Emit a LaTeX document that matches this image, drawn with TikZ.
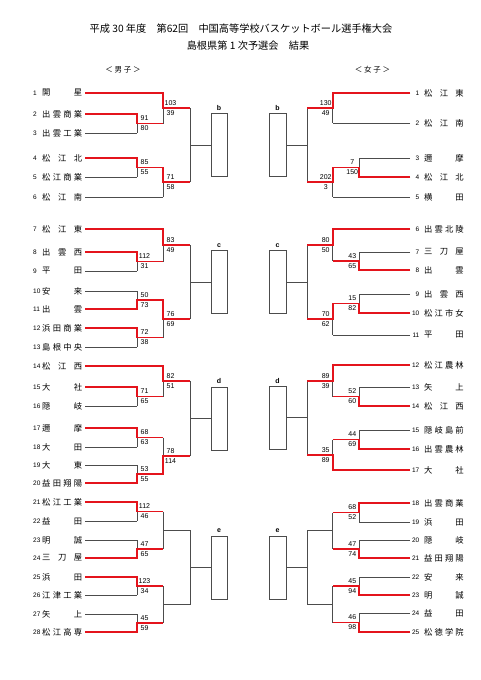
\documentclass[tikz,border=0pt]{standalone}
\usepackage{fontspec}
\setmainfont{Noto Sans CJK JP}
\newfontfamily\lat{Liberation Sans}
\pgfdeclarelayer{fg}
\pgfsetlayers{main,fg}
\definecolor{wred}{RGB}{228,20,28}
\tikzset{
 ln/.style={draw=black!70, line width=0.7pt},
 win/.style={draw=wred, line width=1.7pt},
 sc/.style={inner sep=0pt, font=\lat\fontsize{7}{7}\selectfont},
 tnum/.style={inner sep=0pt, font=\lat\fontsize{6.5}{6.5}\selectfont},
 tname/.style={inner sep=0pt, font=\fontsize{8.3}{9}\selectfont},
 lbl/.style={inner sep=0pt, font=\lat\bfseries\fontsize{7}{7}\selectfont},
 bx/.style={draw=black!70, line width=0.7pt, inner sep=0pt, minimum height=63pt},
}
% match: name, x, ya, yb, xnext, top score, bottom score, winner(0/1/2), xprev
\newcommand\M[9]{%
  \pgfmathsetmacro\ym{(#3+#4)/2}%
  \pgfmathsetmacro\sx{(#5>#2) ? (#2+7.5) : (#2-7)}%
  \draw[ln] (#2,#3) -- (#2,#4) (#2,\ym) -- (#5,\ym);
  \node[sc] (#1a) at (\sx,\ym-5) {#6};
  \node[sc] (#1b) at (\sx,\ym+5) {#7};
  \ifcase#8\or
   \begin{pgfonlayer}{fg}\draw[win] (#9,#3) -- (#2,#3) -- (#2,\ym) -- (#5,\ym);\end{pgfonlayer}%
  \or
   \begin{pgfonlayer}{fg}\draw[win] (#9,#4) -- (#2,#4) -- (#2,\ym) -- (#5,\ym);\end{pgfonlayer}%
  \fi
}
% plain match without scores: x, ya, yb, xnext
\newcommand\Mb[4]{%
  \pgfmathsetmacro\ym{(#2+#3)/2}%
  \draw[ln] (#1,#2) -- (#1,#3) (#1,\ym) -- (#4,\ym);
}
% final: name, x, ya, yb, box centre x, anchor, label, width
\newcommand\F[8]{%
  \pgfmathsetmacro\ym{(#3+#4)/2}%
  \node[bx, minimum width=#8pt] (#1) at (#5,\ym) {};
  \node[lbl, anchor=south] (#1l) at ([yshift=2.5pt]#1.north) {#7};
  \draw[ln] (#2,#3) -- (#2,#4) (#2,\ym) -- (#1.#6);
}
\newcommand\LT[5]{%
  \node[tnum, anchor=west] (#1n) at (33,#2) {#3};
  \node[tname, anchor=west] (#1) at (42,#2) {\hbox to 40pt{#4}};
  \draw[ln] (85,#2) -- (#5,#2);
}
\newcommand\RT[5]{%
  \node[tnum, anchor=east] (#1n) at (419.5,#2) {#3};
  \node[tname, anchor=west] (#1) at (424,#2) {\hbox to 39.5pt{#4}};
  \draw[ln] (410,#2) -- (#5,#2);
}
\begin{document}
\begin{tikzpicture}[x=1pt,y=-1pt]
\fill[white] (0,0) rectangle (481,680);
\useasboundingbox (0,0) rectangle (481,680);

\node[inner sep=0pt, font=\fontsize{10.2}{12}\selectfont] (t1) at (241,29) {平成 30 年度　第62回　中国高等学校バスケットボール選手権大会};
\node[inner sep=0pt, font=\fontsize{10.2}{12}\selectfont] (t2) at (248,46) {島根県第 1 次予選会　結果};
\node[inner sep=0pt, font=\fontsize{7.5}{9}\selectfont] (hm) at (123,70) {＜ 男 子 ＞};
\node[inner sep=0pt, font=\fontsize{7.5}{9}\selectfont] (hw) at (372.5,70) {＜ 女 子 ＞};

% ---------------- men ----------------
\LT{L1}{93}{1}{開\hfill 星}{163}
\LT{L2}{114}{2}{出\hfill 雲\hfill 商\hfill 業}{137}
\LT{L3}{133}{3}{出\hfill 雲\hfill 工\hfill 業}{137}
\LT{L4}{158}{4}{松\hfill 江\hfill 北}{137}
\LT{L5}{177}{5}{松\hfill 江\hfill 商\hfill 業}{137}
\LT{L6}{197}{6}{松\hfill 江\hfill 南}{163}
\LT{L7}{229}{7}{松\hfill 江\hfill 東}{163}
\LT{L8}{252}{8}{出\hfill 雲\hfill 西}{137}
\LT{L9}{271}{9}{平\hfill 田}{137}
\LT{L10}{291}{10}{安\hfill 来}{137}
\LT{L11}{309}{11}{出\hfill 雲}{137}
\LT{L12}{328}{12}{浜\hfill 田\hfill 商\hfill 業}{137}
\LT{L13}{347}{13}{島\hfill 根\hfill 中\hfill 央}{137}
\LT{L14}{366}{14}{松\hfill 江\hfill 西}{163}
\LT{L15}{387}{15}{大\hfill 社}{137}
\LT{L16}{406}{16}{隠\hfill 岐}{137}
\LT{L17}{428}{17}{邇\hfill 摩}{137}
\LT{L18}{447}{18}{大\hfill 田}{137}
\LT{L19}{465}{19}{大\hfill 東}{137}
\LT{L20}{483}{20}{益\hfill 田\hfill 翔\hfill 陽}{137}
\LT{L21}{502}{21}{松\hfill 江\hfill 工\hfill 業}{137}
\LT{L22}{521}{22}{益\hfill 田}{137}
\LT{L23}{540}{23}{明\hfill 誠}{137}
\LT{L24}{558}{24}{三\hfill 刀\hfill 屋}{137}
\LT{L25}{577}{25}{浜\hfill 田}{137}
\LT{L26}{595}{26}{江\hfill 津\hfill 工\hfill 業}{137}
\LT{L27}{614}{27}{矢\hfill 上}{137}
\LT{L28}{632}{28}{松\hfill 江\hfill 高\hfill 専}{137}

\M{ma}{137}{114}{133}{163}{91}{80}{1}{85}
\M{mb}{163}{93}{123.5}{190}{103}{39}{1}{85}
\M{mc}{137}{158}{177}{163}{85}{55}{1}{85}
\M{md}{163}{167.5}{197}{190}{71}{58}{1}{137}
\F{LB}{190}{108.25}{182.25}{219}{west}{b}{16}

\M{me}{137}{252}{271}{163}{112}{31}{1}{85}
\M{mf}{163}{229}{261.5}{190}{83}{49}{1}{85}
\M{mg}{137}{291}{309}{163}{50}{73}{2}{85}
\M{mh}{137}{328}{347}{163}{72}{38}{1}{85}
\M{mi}{163}{300}{337.5}{190}{76}{69}{1}{137}
\F{LC}{190}{245.25}{318.75}{219}{west}{c}{16}

\M{mj}{137}{387}{406}{163}{71}{65}{1}{85}
\M{mk}{163}{366}{396.5}{190}{82}{51}{1}{85}
\M{ml}{137}{428}{447}{163}{68}{63}{1}{85}
\M{mm}{137}{465}{483}{163}{53}{55}{2}{85}
\M{mn}{163}{437.5}{474}{190}{78}{114}{2}{137}
\F{LD}{190}{381.25}{455.75}{219}{west}{d}{16}

\M{mo}{137}{502}{521}{163}{112}{46}{1}{85}
\M{mp}{137}{540}{558}{163}{47}{65}{2}{85}
\Mb{163}{511.5}{549}{190}
\M{mq}{137}{577}{595}{163}{123}{34}{1}{85}
\M{mr}{137}{614}{632}{163}{45}{59}{2}{85}
\Mb{163}{586}{623}{190}
\F{LE}{190}{530.25}{604.5}{219}{west}{e}{16}

% ---------------- women ----------------
\RT{R1}{93}{1}{松\hfill 江\hfill 東}{332.7}
\RT{R2}{123}{2}{松\hfill 江\hfill 南}{332.7}
\RT{R3}{158}{3}{邇\hfill 摩}{359.3}
\RT{R4}{177}{4}{松\hfill 江\hfill 北}{359.3}
\RT{R5}{197}{5}{横\hfill 田}{332.7}
\RT{R6}{229}{6}{出\hfill 雲\hfill 北\hfill 陵}{332.7}
\RT{R7}{252}{7}{三\hfill 刀\hfill 屋}{359.3}
\RT{R8}{270}{8}{出\hfill 雲}{359.3}
\RT{R9}{294}{9}{出\hfill 雲\hfill 西}{359.3}
\RT{R10}{313}{10}{松\hfill 江\hfill 市\hfill 女}{359.3}
\RT{R11}{335}{11}{平\hfill 田}{332.7}
\RT{R12}{365}{12}{松\hfill 江\hfill 農\hfill 林}{332.7}
\RT{R13}{387}{13}{矢\hfill 上}{359.3}
\RT{R14}{406}{14}{松\hfill 江\hfill 西}{359.3}
\RT{R15}{430}{15}{隠\hfill 岐\hfill 島\hfill 前}{359.3}
\RT{R16}{449}{16}{出\hfill 雲\hfill 農\hfill 林}{359.3}
\RT{R17}{470}{17}{大\hfill 社}{332.7}
\RT{R18}{503}{18}{出\hfill 雲\hfill 商\hfill 業}{359.3}
\RT{R19}{522}{19}{浜\hfill 田}{359.3}
\RT{R20}{540}{20}{隠\hfill 岐}{359.3}
\RT{R21}{558}{21}{益\hfill 田\hfill 翔\hfill 陽}{359.3}
\RT{R22}{577}{22}{安\hfill 来}{359.3}
\RT{R23}{595}{23}{明\hfill 誠}{359.3}
\RT{R24}{613}{24}{益\hfill 田}{359.3}
\RT{R25}{632}{25}{松\hfill 徳\hfill 学\hfill 院}{359.3}

\M{wa}{332.7}{93}{123}{307.3}{130}{49}{1}{410}
\M{wb}{359.3}{158}{177}{332.7}{7}{150}{2}{410}
\M{wc}{332.7}{167.5}{197}{307.3}{202}{3}{1}{359.3}
\F{RB}{307.3}{108}{182.25}{277.5}{east}{b}{17}

\M{wd}{359.3}{252}{270}{332.7}{43}{65}{2}{410}
\M{we}{332.7}{229}{261}{307.3}{80}{50}{1}{410}
\M{wf}{359.3}{294}{313}{332.7}{15}{82}{2}{410}
\M{wg}{332.7}{303.5}{335}{307.3}{70}{62}{1}{359.3}
\F{RC}{307.3}{245}{319.25}{277.5}{east}{c}{17}

\M{wh}{359.3}{387}{406}{332.7}{52}{60}{2}{410}
\M{wi}{332.7}{365}{396.5}{307.3}{89}{39}{1}{410}
\M{wj}{359.3}{430}{449}{332.7}{44}{69}{2}{410}
\M{wk}{332.7}{439.5}{470}{307.3}{35}{89}{2}{410}
\F{RD}{307.3}{380.75}{454.75}{277.5}{east}{d}{17}

\M{wl}{359.3}{503}{522}{332.7}{68}{52}{1}{410}
\M{wm}{359.3}{540}{558}{332.7}{47}{74}{2}{410}
\Mb{332.7}{512.5}{549}{307.3}
\M{wn}{359.3}{577}{595}{332.7}{45}{94}{2}{410}
\M{wo}{359.3}{613}{632}{332.7}{46}{98}{2}{410}
\Mb{332.7}{586}{622.5}{307.3}
\F{RE}{307.3}{530.75}{604.25}{277.5}{east}{e}{17}
\end{tikzpicture}
\end{document}
